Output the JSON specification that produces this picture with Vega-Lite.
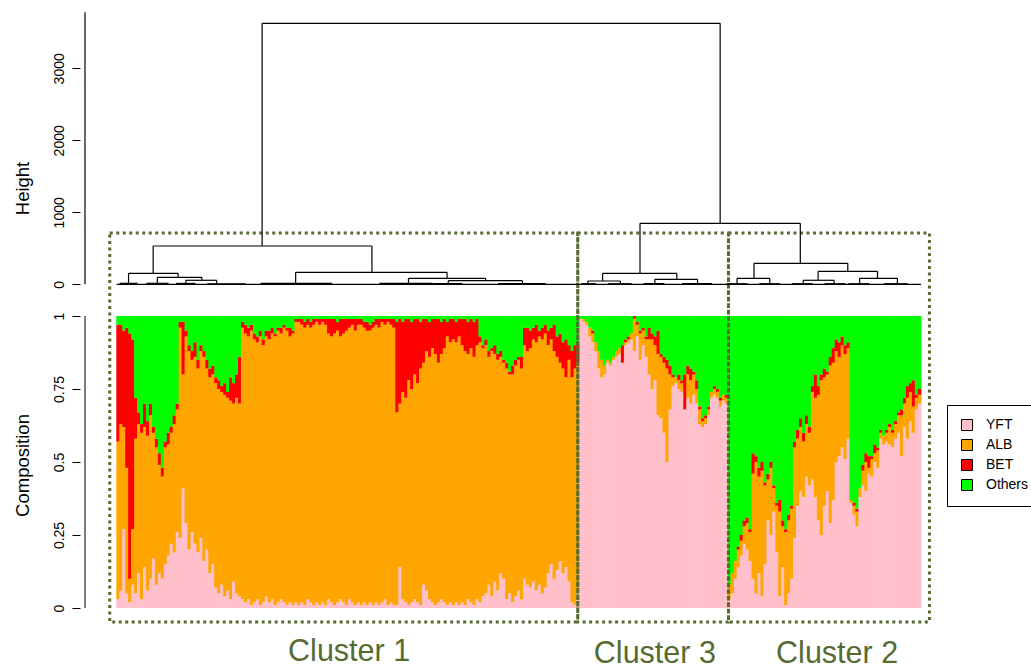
{
"$schema": "https://vega.github.io/schema/vega-lite/v6.json",
"width": 951, "height": 670,
"autosize": {"type": "none"},
"padding": {"left": 80, "top": 0, "right": 0, "bottom": 0},
"background": "white",
"config": {"font": "Liberation Sans", "view": {"stroke": null}},
"resolve": {"scale": {"y": "independent"}, "axis": {"y": "independent"}},
"layer": [
{"layer": [
{"data": {"values": [
{"i":0,"YFT":0.03,"ALB":0.54,"BET":0.40,"Others":0.03},
{"i":1,"YFT":0.06,"ALB":0.57,"BET":0.34,"Others":0.03},
{"i":2,"YFT":0.27,"ALB":0.35,"BET":0.33,"Others":0.05},
{"i":3,"YFT":0.05,"ALB":0.43,"BET":0.48,"Others":0.04},
{"i":4,"YFT":0.02,"ALB":0.08,"BET":0.84,"Others":0.06},
{"i":5,"YFT":0.08,"ALB":0.19,"BET":0.65,"Others":0.08},
{"i":6,"YFT":0.05,"ALB":0.53,"BET":0.14,"Others":0.28},
{"i":7,"YFT":0.12,"ALB":0.51,"BET":0.04,"Others":0.33},
{"i":8,"YFT":0.03,"ALB":0.57,"BET":0.03,"Others":0.37},
{"i":9,"YFT":0.14,"ALB":0.48,"BET":0.08,"Others":0.30},
{"i":10,"YFT":0.06,"ALB":0.53,"BET":0.05,"Others":0.36},
{"i":11,"YFT":0.10,"ALB":0.56,"BET":0.04,"Others":0.30},
{"i":12,"YFT":0.17,"ALB":0.43,"BET":0.02,"Others":0.38},
{"i":13,"YFT":0.08,"ALB":0.47,"BET":0.03,"Others":0.42},
{"i":14,"YFT":0.12,"ALB":0.37,"BET":0.04,"Others":0.47},
{"i":15,"YFT":0.10,"ALB":0.35,"BET":0.03,"Others":0.52},
{"i":16,"YFT":0.15,"ALB":0.40,"BET":0.02,"Others":0.43},
{"i":17,"YFT":0.18,"ALB":0.38,"BET":0.04,"Others":0.40},
{"i":18,"YFT":0.22,"ALB":0.38,"BET":0.02,"Others":0.38},
{"i":19,"YFT":0.19,"ALB":0.44,"BET":0.03,"Others":0.34},
{"i":20,"YFT":0.26,"ALB":0.42,"BET":0.02,"Others":0.30},
{"i":21,"YFT":0.24,"ALB":0.72,"BET":0.02,"Others":0.02},
{"i":22,"YFT":0.41,"ALB":0.39,"BET":0.18,"Others":0.02},
{"i":23,"YFT":0.29,"ALB":0.64,"BET":0.02,"Others":0.05},
{"i":24,"YFT":0.20,"ALB":0.68,"BET":0.02,"Others":0.10},
{"i":25,"YFT":0.26,"ALB":0.59,"BET":0.03,"Others":0.12},
{"i":26,"YFT":0.22,"ALB":0.64,"BET":0.05,"Others":0.09},
{"i":27,"YFT":0.19,"ALB":0.63,"BET":0.03,"Others":0.15},
{"i":28,"YFT":0.24,"ALB":0.64,"BET":0.02,"Others":0.10},
{"i":29,"YFT":0.16,"ALB":0.70,"BET":0.02,"Others":0.12},
{"i":30,"YFT":0.20,"ALB":0.62,"BET":0.03,"Others":0.15},
{"i":31,"YFT":0.12,"ALB":0.67,"BET":0.03,"Others":0.18},
{"i":32,"YFT":0.15,"ALB":0.65,"BET":0.03,"Others":0.17},
{"i":33,"YFT":0.07,"ALB":0.70,"BET":0.02,"Others":0.21},
{"i":34,"YFT":0.05,"ALB":0.70,"BET":0.03,"Others":0.22},
{"i":35,"YFT":0.08,"ALB":0.66,"BET":0.02,"Others":0.24},
{"i":36,"YFT":0.04,"ALB":0.69,"BET":0.04,"Others":0.23},
{"i":37,"YFT":0.06,"ALB":0.66,"BET":0.02,"Others":0.26},
{"i":38,"YFT":0.03,"ALB":0.68,"BET":0.08,"Others":0.21},
{"i":39,"YFT":0.09,"ALB":0.61,"BET":0.07,"Others":0.23},
{"i":40,"YFT":0.05,"ALB":0.67,"BET":0.08,"Others":0.20},
{"i":41,"YFT":0.04,"ALB":0.66,"BET":0.16,"Others":0.14},
{"i":42,"YFT":0.03,"ALB":0.93,"BET":0.02,"Others":0.02},
{"i":43,"YFT":0.02,"ALB":0.92,"BET":0.03,"Others":0.03},
{"i":44,"YFT":0.03,"ALB":0.90,"BET":0.03,"Others":0.04},
{"i":45,"YFT":0.01,"ALB":0.94,"BET":0.02,"Others":0.03},
{"i":46,"YFT":0.02,"ALB":0.90,"BET":0.02,"Others":0.06},
{"i":47,"YFT":0.03,"ALB":0.88,"BET":0.02,"Others":0.07},
{"i":48,"YFT":0.01,"ALB":0.92,"BET":0.02,"Others":0.05},
{"i":49,"YFT":0.02,"ALB":0.88,"BET":0.02,"Others":0.08},
{"i":50,"YFT":0.04,"ALB":0.89,"BET":0.02,"Others":0.05},
{"i":51,"YFT":0.02,"ALB":0.90,"BET":0.03,"Others":0.05},
{"i":52,"YFT":0.03,"ALB":0.91,"BET":0.02,"Others":0.04},
{"i":53,"YFT":0.01,"ALB":0.92,"BET":0.01,"Others":0.06},
{"i":54,"YFT":0.02,"ALB":0.93,"BET":0.01,"Others":0.04},
{"i":55,"YFT":0.03,"ALB":0.91,"BET":0.02,"Others":0.04},
{"i":56,"YFT":0.02,"ALB":0.94,"BET":0.01,"Others":0.03},
{"i":57,"YFT":0.01,"ALB":0.94,"BET":0.01,"Others":0.04},
{"i":58,"YFT":0.02,"ALB":0.91,"BET":0.03,"Others":0.04},
{"i":59,"YFT":0.01,"ALB":0.93,"BET":0.01,"Others":0.05},
{"i":60,"YFT":0.02,"ALB":0.96,"BET":0.01,"Others":0.01},
{"i":61,"YFT":0.01,"ALB":0.97,"BET":0.01,"Others":0.01},
{"i":62,"YFT":0.02,"ALB":0.95,"BET":0.02,"Others":0.01},
{"i":63,"YFT":0.01,"ALB":0.95,"BET":0.02,"Others":0.02},
{"i":64,"YFT":0.03,"ALB":0.94,"BET":0.02,"Others":0.01},
{"i":65,"YFT":0.02,"ALB":0.94,"BET":0.02,"Others":0.02},
{"i":66,"YFT":0.01,"ALB":0.96,"BET":0.02,"Others":0.01},
{"i":67,"YFT":0.02,"ALB":0.96,"BET":0.01,"Others":0.01},
{"i":68,"YFT":0.01,"ALB":0.96,"BET":0.02,"Others":0.01},
{"i":69,"YFT":0.02,"ALB":0.96,"BET":0.01,"Others":0.01},
{"i":70,"YFT":0.01,"ALB":0.96,"BET":0.02,"Others":0.01},
{"i":71,"YFT":0.03,"ALB":0.91,"BET":0.05,"Others":0.01},
{"i":72,"YFT":0.02,"ALB":0.91,"BET":0.06,"Others":0.01},
{"i":73,"YFT":0.01,"ALB":0.93,"BET":0.05,"Others":0.01},
{"i":74,"YFT":0.02,"ALB":0.93,"BET":0.03,"Others":0.02},
{"i":75,"YFT":0.03,"ALB":0.90,"BET":0.06,"Others":0.01},
{"i":76,"YFT":0.02,"ALB":0.92,"BET":0.05,"Others":0.01},
{"i":77,"YFT":0.01,"ALB":0.94,"BET":0.04,"Others":0.01},
{"i":78,"YFT":0.03,"ALB":0.93,"BET":0.03,"Others":0.01},
{"i":79,"YFT":0.02,"ALB":0.95,"BET":0.02,"Others":0.01},
{"i":80,"YFT":0.01,"ALB":0.94,"BET":0.04,"Others":0.01},
{"i":81,"YFT":0.02,"ALB":0.95,"BET":0.02,"Others":0.01},
{"i":82,"YFT":0.01,"ALB":0.96,"BET":0.02,"Others":0.01},
{"i":83,"YFT":0.02,"ALB":0.94,"BET":0.02,"Others":0.02},
{"i":84,"YFT":0.01,"ALB":0.94,"BET":0.03,"Others":0.02},
{"i":85,"YFT":0.02,"ALB":0.93,"BET":0.02,"Others":0.03},
{"i":86,"YFT":0.01,"ALB":0.95,"BET":0.02,"Others":0.02},
{"i":87,"YFT":0.02,"ALB":0.95,"BET":0.02,"Others":0.01},
{"i":88,"YFT":0.01,"ALB":0.95,"BET":0.03,"Others":0.01},
{"i":89,"YFT":0.02,"ALB":0.96,"BET":0.01,"Others":0.01},
{"i":90,"YFT":0.03,"ALB":0.94,"BET":0.02,"Others":0.01},
{"i":91,"YFT":0.01,"ALB":0.97,"BET":0.01,"Others":0.01},
{"i":92,"YFT":0.02,"ALB":0.95,"BET":0.02,"Others":0.01},
{"i":93,"YFT":0.01,"ALB":0.95,"BET":0.03,"Others":0.01},
{"i":94,"YFT":0.01,"ALB":0.66,"BET":0.31,"Others":0.02},
{"i":95,"YFT":0.14,"ALB":0.56,"BET":0.29,"Others":0.01},
{"i":96,"YFT":0.03,"ALB":0.71,"BET":0.24,"Others":0.02},
{"i":97,"YFT":0.02,"ALB":0.70,"BET":0.27,"Others":0.01},
{"i":98,"YFT":0.01,"ALB":0.77,"BET":0.21,"Others":0.01},
{"i":99,"YFT":0.02,"ALB":0.73,"BET":0.23,"Others":0.02},
{"i":100,"YFT":0.03,"ALB":0.77,"BET":0.19,"Others":0.01},
{"i":101,"YFT":0.02,"ALB":0.75,"BET":0.22,"Others":0.01},
{"i":102,"YFT":0.01,"ALB":0.81,"BET":0.16,"Others":0.02},
{"i":103,"YFT":0.08,"ALB":0.76,"BET":0.15,"Others":0.01},
{"i":104,"YFT":0.06,"ALB":0.82,"BET":0.11,"Others":0.01},
{"i":105,"YFT":0.03,"ALB":0.83,"BET":0.12,"Others":0.02},
{"i":106,"YFT":0.02,"ALB":0.87,"BET":0.10,"Others":0.01},
{"i":107,"YFT":0.01,"ALB":0.86,"BET":0.12,"Others":0.01},
{"i":108,"YFT":0.02,"ALB":0.82,"BET":0.15,"Others":0.01},
{"i":109,"YFT":0.03,"ALB":0.84,"BET":0.11,"Others":0.02},
{"i":110,"YFT":0.02,"ALB":0.87,"BET":0.10,"Others":0.01},
{"i":111,"YFT":0.01,"ALB":0.92,"BET":0.05,"Others":0.02},
{"i":112,"YFT":0.02,"ALB":0.89,"BET":0.08,"Others":0.01},
{"i":113,"YFT":0.01,"ALB":0.91,"BET":0.07,"Others":0.01},
{"i":114,"YFT":0.02,"ALB":0.89,"BET":0.07,"Others":0.02},
{"i":115,"YFT":0.01,"ALB":0.92,"BET":0.06,"Others":0.01},
{"i":116,"YFT":0.02,"ALB":0.88,"BET":0.09,"Others":0.01},
{"i":117,"YFT":0.01,"ALB":0.87,"BET":0.11,"Others":0.01},
{"i":118,"YFT":0.03,"ALB":0.84,"BET":0.11,"Others":0.02},
{"i":119,"YFT":0.02,"ALB":0.87,"BET":0.10,"Others":0.01},
{"i":120,"YFT":0.01,"ALB":0.85,"BET":0.12,"Others":0.02},
{"i":121,"YFT":0.03,"ALB":0.87,"BET":0.09,"Others":0.01},
{"i":122,"YFT":0.02,"ALB":0.89,"BET":0.02,"Others":0.07},
{"i":123,"YFT":0.04,"ALB":0.85,"BET":0.01,"Others":0.10},
{"i":124,"YFT":0.05,"ALB":0.85,"BET":0.02,"Others":0.08},
{"i":125,"YFT":0.08,"ALB":0.78,"BET":0.02,"Others":0.12},
{"i":126,"YFT":0.04,"ALB":0.84,"BET":0.01,"Others":0.11},
{"i":127,"YFT":0.09,"ALB":0.78,"BET":0.03,"Others":0.10},
{"i":128,"YFT":0.06,"ALB":0.79,"BET":0.02,"Others":0.13},
{"i":129,"YFT":0.12,"ALB":0.74,"BET":0.02,"Others":0.12},
{"i":130,"YFT":0.10,"ALB":0.74,"BET":0.01,"Others":0.15},
{"i":131,"YFT":0.03,"ALB":0.79,"BET":0.02,"Others":0.16},
{"i":132,"YFT":0.05,"ALB":0.75,"BET":0.01,"Others":0.19},
{"i":133,"YFT":0.02,"ALB":0.78,"BET":0.03,"Others":0.17},
{"i":134,"YFT":0.04,"ALB":0.79,"BET":0.02,"Others":0.15},
{"i":135,"YFT":0.06,"ALB":0.79,"BET":0.01,"Others":0.14},
{"i":136,"YFT":0.03,"ALB":0.79,"BET":0.04,"Others":0.14},
{"i":137,"YFT":0.10,"ALB":0.80,"BET":0.06,"Others":0.04},
{"i":138,"YFT":0.08,"ALB":0.80,"BET":0.08,"Others":0.04},
{"i":139,"YFT":0.07,"ALB":0.82,"BET":0.06,"Others":0.05},
{"i":140,"YFT":0.09,"ALB":0.83,"BET":0.04,"Others":0.04},
{"i":141,"YFT":0.06,"ALB":0.85,"BET":0.06,"Others":0.03},
{"i":142,"YFT":0.08,"ALB":0.85,"BET":0.02,"Others":0.05},
{"i":143,"YFT":0.05,"ALB":0.87,"BET":0.04,"Others":0.04},
{"i":144,"YFT":0.07,"ALB":0.87,"BET":0.03,"Others":0.03},
{"i":145,"YFT":0.12,"ALB":0.78,"BET":0.05,"Others":0.05},
{"i":146,"YFT":0.15,"ALB":0.77,"BET":0.04,"Others":0.04},
{"i":147,"YFT":0.10,"ALB":0.78,"BET":0.09,"Others":0.03},
{"i":148,"YFT":0.13,"ALB":0.73,"BET":0.07,"Others":0.07},
{"i":149,"YFT":0.16,"ALB":0.68,"BET":0.10,"Others":0.06},
{"i":150,"YFT":0.12,"ALB":0.70,"BET":0.09,"Others":0.09},
{"i":151,"YFT":0.14,"ALB":0.65,"BET":0.13,"Others":0.08},
{"i":152,"YFT":0.09,"ALB":0.76,"BET":0.05,"Others":0.10},
{"i":153,"YFT":0.02,"ALB":0.77,"BET":0.09,"Others":0.12},
{"i":154,"YFT":0.01,"ALB":0.81,"BET":0.08,"Others":0.10},
{"i":155,"YFT":0.06,"ALB":0.78,"BET":0.07,"Others":0.09},
{"i":156,"YFT":0.99,"ALB":0.00,"BET":0.00,"Others":0.01},
{"i":157,"YFT":0.98,"ALB":0.01,"BET":0.00,"Others":0.01},
{"i":158,"YFT":0.97,"ALB":0.01,"BET":0.00,"Others":0.02},
{"i":159,"YFT":0.93,"ALB":0.03,"BET":0.00,"Others":0.04},
{"i":160,"YFT":0.91,"ALB":0.03,"BET":0.01,"Others":0.05},
{"i":161,"YFT":0.88,"ALB":0.03,"BET":0.00,"Others":0.09},
{"i":162,"YFT":0.82,"ALB":0.06,"BET":0.00,"Others":0.12},
{"i":163,"YFT":0.79,"ALB":0.06,"BET":0.00,"Others":0.15},
{"i":164,"YFT":0.80,"ALB":0.03,"BET":0.00,"Others":0.17},
{"i":165,"YFT":0.84,"ALB":0.01,"BET":0.00,"Others":0.15},
{"i":166,"YFT":0.83,"ALB":0.01,"BET":0.00,"Others":0.16},
{"i":167,"YFT":0.85,"ALB":0.01,"BET":0.00,"Others":0.14},
{"i":168,"YFT":0.86,"ALB":0.02,"BET":0.00,"Others":0.12},
{"i":169,"YFT":0.87,"ALB":0.02,"BET":0.00,"Others":0.11},
{"i":170,"YFT":0.84,"ALB":0.00,"BET":0.06,"Others":0.10},
{"i":171,"YFT":0.90,"ALB":0.01,"BET":0.01,"Others":0.08},
{"i":172,"YFT":0.91,"ALB":0.01,"BET":0.01,"Others":0.07},
{"i":173,"YFT":0.92,"ALB":0.02,"BET":0.00,"Others":0.06},
{"i":174,"YFT":0.88,"ALB":0.11,"BET":0.01,"Others":0.00},
{"i":175,"YFT":0.93,"ALB":0.04,"BET":0.01,"Others":0.02},
{"i":176,"YFT":0.85,"ALB":0.09,"BET":0.01,"Others":0.05},
{"i":177,"YFT":0.90,"ALB":0.05,"BET":0.01,"Others":0.04},
{"i":178,"YFT":0.86,"ALB":0.06,"BET":0.01,"Others":0.07},
{"i":179,"YFT":0.80,"ALB":0.12,"BET":0.04,"Others":0.04},
{"i":180,"YFT":0.75,"ALB":0.17,"BET":0.02,"Others":0.06},
{"i":181,"YFT":0.78,"ALB":0.12,"BET":0.03,"Others":0.07},
{"i":182,"YFT":0.66,"ALB":0.21,"BET":0.08,"Others":0.05},
{"i":183,"YFT":0.65,"ALB":0.21,"BET":0.01,"Others":0.13},
{"i":184,"YFT":0.60,"ALB":0.24,"BET":0.02,"Others":0.14},
{"i":185,"YFT":0.50,"ALB":0.32,"BET":0.03,"Others":0.15},
{"i":186,"YFT":0.68,"ALB":0.12,"BET":0.03,"Others":0.17},
{"i":187,"YFT":0.76,"ALB":0.03,"BET":0.01,"Others":0.20},
{"i":188,"YFT":0.77,"ALB":0.02,"BET":0.00,"Others":0.21},
{"i":189,"YFT":0.75,"ALB":0.03,"BET":0.02,"Others":0.20},
{"i":190,"YFT":0.74,"ALB":0.03,"BET":0.01,"Others":0.22},
{"i":191,"YFT":0.68,"ALB":0.00,"BET":0.12,"Others":0.20},
{"i":192,"YFT":0.72,"ALB":0.08,"BET":0.03,"Others":0.17},
{"i":193,"YFT":0.70,"ALB":0.08,"BET":0.04,"Others":0.18},
{"i":194,"YFT":0.73,"ALB":0.07,"BET":0.01,"Others":0.19},
{"i":195,"YFT":0.70,"ALB":0.05,"BET":0.03,"Others":0.22},
{"i":196,"YFT":0.63,"ALB":0.05,"BET":0.01,"Others":0.31},
{"i":197,"YFT":0.62,"ALB":0.02,"BET":0.01,"Others":0.35},
{"i":198,"YFT":0.63,"ALB":0.02,"BET":0.01,"Others":0.34},
{"i":199,"YFT":0.66,"ALB":0.02,"BET":0.01,"Others":0.31},
{"i":200,"YFT":0.72,"ALB":0.02,"BET":0.00,"Others":0.26},
{"i":201,"YFT":0.73,"ALB":0.02,"BET":0.01,"Others":0.24},
{"i":202,"YFT":0.72,"ALB":0.02,"BET":0.01,"Others":0.25},
{"i":203,"YFT":0.69,"ALB":0.02,"BET":0.01,"Others":0.28},
{"i":204,"YFT":0.71,"ALB":0.02,"BET":0.00,"Others":0.27},
{"i":205,"YFT":0.70,"ALB":0.02,"BET":0.01,"Others":0.27},
{"i":206,"YFT":0.03,"ALB":0.05,"BET":0.00,"Others":0.92},
{"i":207,"YFT":0.05,"ALB":0.07,"BET":0.00,"Others":0.88},
{"i":208,"YFT":0.10,"ALB":0.06,"BET":0.00,"Others":0.84},
{"i":209,"YFT":0.14,"ALB":0.06,"BET":0.01,"Others":0.79},
{"i":210,"YFT":0.18,"ALB":0.05,"BET":0.02,"Others":0.75},
{"i":211,"YFT":0.22,"ALB":0.06,"BET":0.02,"Others":0.70},
{"i":212,"YFT":0.20,"ALB":0.09,"BET":0.02,"Others":0.69},
{"i":213,"YFT":0.16,"ALB":0.10,"BET":0.01,"Others":0.73},
{"i":214,"YFT":0.10,"ALB":0.36,"BET":0.07,"Others":0.47},
{"i":215,"YFT":0.05,"ALB":0.45,"BET":0.02,"Others":0.48},
{"i":216,"YFT":0.12,"ALB":0.33,"BET":0.03,"Others":0.52},
{"i":217,"YFT":0.04,"ALB":0.43,"BET":0.03,"Others":0.50},
{"i":218,"YFT":0.15,"ALB":0.27,"BET":0.01,"Others":0.57},
{"i":219,"YFT":0.30,"ALB":0.14,"BET":0.02,"Others":0.54},
{"i":220,"YFT":0.25,"ALB":0.23,"BET":0.02,"Others":0.50},
{"i":221,"YFT":0.33,"ALB":0.08,"BET":0.01,"Others":0.58},
{"i":222,"YFT":0.19,"ALB":0.16,"BET":0.01,"Others":0.64},
{"i":223,"YFT":0.04,"ALB":0.29,"BET":0.04,"Others":0.63},
{"i":224,"YFT":0.14,"ALB":0.14,"BET":0.02,"Others":0.70},
{"i":225,"YFT":0.01,"ALB":0.25,"BET":0.01,"Others":0.73},
{"i":226,"YFT":0.05,"ALB":0.25,"BET":0.02,"Others":0.68},
{"i":227,"YFT":0.10,"ALB":0.24,"BET":0.01,"Others":0.65},
{"i":228,"YFT":0.24,"ALB":0.31,"BET":0.02,"Others":0.43},
{"i":229,"YFT":0.35,"ALB":0.23,"BET":0.03,"Others":0.39},
{"i":230,"YFT":0.40,"ALB":0.22,"BET":0.03,"Others":0.35},
{"i":231,"YFT":0.38,"ALB":0.19,"BET":0.03,"Others":0.40},
{"i":232,"YFT":0.45,"ALB":0.18,"BET":0.03,"Others":0.34},
{"i":233,"YFT":0.42,"ALB":0.18,"BET":0.02,"Others":0.38},
{"i":234,"YFT":0.44,"ALB":0.30,"BET":0.02,"Others":0.24},
{"i":235,"YFT":0.38,"ALB":0.34,"BET":0.08,"Others":0.20},
{"i":236,"YFT":0.30,"ALB":0.43,"BET":0.03,"Others":0.24},
{"i":237,"YFT":0.25,"ALB":0.53,"BET":0.02,"Others":0.20},
{"i":238,"YFT":0.35,"ALB":0.44,"BET":0.03,"Others":0.18},
{"i":239,"YFT":0.40,"ALB":0.40,"BET":0.01,"Others":0.19},
{"i":240,"YFT":0.29,"ALB":0.54,"BET":0.03,"Others":0.14},
{"i":241,"YFT":0.37,"ALB":0.47,"BET":0.05,"Others":0.11},
{"i":242,"YFT":0.50,"ALB":0.38,"BET":0.04,"Others":0.08},
{"i":243,"YFT":0.52,"ALB":0.34,"BET":0.05,"Others":0.09},
{"i":244,"YFT":0.55,"ALB":0.35,"BET":0.03,"Others":0.07},
{"i":245,"YFT":0.51,"ALB":0.36,"BET":0.03,"Others":0.10},
{"i":246,"YFT":0.58,"ALB":0.31,"BET":0.02,"Others":0.09},
{"i":247,"YFT":0.36,"ALB":0.01,"BET":0.00,"Others":0.63},
{"i":248,"YFT":0.32,"ALB":0.03,"BET":0.01,"Others":0.64},
{"i":249,"YFT":0.28,"ALB":0.05,"BET":0.01,"Others":0.66},
{"i":250,"YFT":0.38,"ALB":0.03,"BET":0.00,"Others":0.59},
{"i":251,"YFT":0.42,"ALB":0.05,"BET":0.02,"Others":0.51},
{"i":252,"YFT":0.40,"ALB":0.10,"BET":0.03,"Others":0.47},
{"i":253,"YFT":0.46,"ALB":0.02,"BET":0.04,"Others":0.48},
{"i":254,"YFT":0.45,"ALB":0.06,"BET":0.01,"Others":0.48},
{"i":255,"YFT":0.50,"ALB":0.03,"BET":0.03,"Others":0.44},
{"i":256,"YFT":0.48,"ALB":0.06,"BET":0.01,"Others":0.45},
{"i":257,"YFT":0.58,"ALB":0.02,"BET":0.01,"Others":0.39},
{"i":258,"YFT":0.56,"ALB":0.03,"BET":0.00,"Others":0.41},
{"i":259,"YFT":0.57,"ALB":0.03,"BET":0.01,"Others":0.39},
{"i":260,"YFT":0.56,"ALB":0.06,"BET":0.01,"Others":0.37},
{"i":261,"YFT":0.55,"ALB":0.05,"BET":0.01,"Others":0.39},
{"i":262,"YFT":0.58,"ALB":0.05,"BET":0.01,"Others":0.36},
{"i":263,"YFT":0.60,"ALB":0.06,"BET":0.01,"Others":0.33},
{"i":264,"YFT":0.52,"ALB":0.14,"BET":0.02,"Others":0.32},
{"i":265,"YFT":0.62,"ALB":0.08,"BET":0.02,"Others":0.28},
{"i":266,"YFT":0.58,"ALB":0.14,"BET":0.04,"Others":0.24},
{"i":267,"YFT":0.64,"ALB":0.10,"BET":0.03,"Others":0.23},
{"i":268,"YFT":0.60,"ALB":0.09,"BET":0.09,"Others":0.22},
{"i":269,"YFT":0.68,"ALB":0.04,"BET":0.01,"Others":0.27},
{"i":270,"YFT":0.70,"ALB":0.03,"BET":0.02,"Others":0.25}
]},
"transform": [
{"fold": ["YFT","ALB","BET","Others"], "as": ["species","share"]},
{"lookup": "species", "from": {"data": {"values": [{"species":"YFT","rank":1},{"species":"ALB","rank":2},{"species":"BET","rank":3},{"species":"Others","rank":4}]}, "key": "species", "fields": ["rank"]}}
],
"mark": {"type": "bar", "width": 3.7},
"encoding": {
"x": {"field": "i", "type": "quantitative", "scale": {"domain": [-11.1667, 305.8333], "nice": false, "zero": false}, "axis": null},
"y": {"field": "share", "type": "quantitative", "stack": "zero", "title": "Composition",
 "scale": {"domain": [-0.21233, 2.08219], "nice": false, "zero": false},
 "axis": {"orient": "left", "values": [0,0.25,0.5,0.75,1], "labelExpr": "'' + datum.value", "domain": false, "grid": false,
  "tickSize": 8, "tickColor": "black", "tickWidth": 1, "labelAngle": 270, "labelAlign": "center", "labelBaseline": "alphabetic",
  "labelPadding": 9, "labelFontSize": 14, "labelColor": "black", "labelOverlap": false, "labelFont": "Liberation Sans",
  "titleFontSize": 18.5, "titleFontWeight": "normal", "titleFont": "Liberation Sans", "titleColor": "black", "titleAngle": 270,
  "titleAlign": "center", "titleBaseline": "alphabetic", "titleX": -52, "titleY": 465}},
"color": {"field": "species", "type": "nominal",
 "scale": {"domain": ["YFT","ALB","BET","Others"], "range": ["#FFC0CB","#FFA500","#FF0000","#00FF00"]},
 "legend": {"orient": "none", "legendX": 867, "legendY": 405, "title": null, "strokeColor": "black", "fillColor": "white",
  "padding": 13, "symbolType": "square", "symbolSize": 121, "symbolStrokeColor": "black", "symbolStrokeWidth": 1,
  "labelFontSize": 14, "labelFont": "Liberation Sans", "labelColor": "black", "labelOffset": 12, "rowPadding": 4}},
"order": {"field": "rank", "type": "quantitative"}
}},
{"data": {"values": [
{"x1": -2.83, "x2": 154.83, "y1": -0.048, "y2": 1.284},
{"x1": 154.83, "x2": 205.6, "y1": -0.048, "y2": 1.284},
{"x1": 205.6, "x2": 273.3, "y1": -0.048, "y2": 1.284}
]},
"mark": {"type": "rect", "filled": false, "stroke": "#556B2F", "strokeWidth": 3, "strokeDash": [3, 3.5]},
"encoding": {
"x": {"field": "x1", "type": "quantitative", "axis": null, "scale": {"domain": [-11.1667, 305.8333], "nice": false, "zero": false}},
"x2": {"field": "x2"},
"y": {"field": "y1", "type": "quantitative", "title": "Composition", "scale": {"domain": [-0.21233, 2.08219], "nice": false, "zero": false}},
"y2": {"field": "y2"}
}},
{"data": {"values": [
{"label": "Cluster 1", "cx": 77.8, "cy": -0.182},
{"label": "Cluster 3", "cx": 180.8, "cy": -0.188},
{"label": "Cluster 2", "cx": 242.2, "cy": -0.188}
]},
"mark": {"type": "text", "fontSize": 30.5, "font": "Liberation Sans", "color": "#556B2F", "align": "center", "baseline": "alphabetic"},
"encoding": {
"x": {"field": "cx", "type": "quantitative", "axis": null, "scale": {"domain": [-11.1667, 305.8333], "nice": false, "zero": false}},
"y": {"field": "cy", "type": "quantitative", "title": "Composition", "scale": {"domain": [-0.21233, 2.08219], "nice": false, "zero": false}},
"text": {"field": "label"}
}},
{"data": {"values": [{"ax": -11.1667, "a0": 0, "a1": 1}]},
"mark": {"type": "rule", "color": "black", "strokeWidth": 1},
"encoding": {
"x": {"field": "ax", "type": "quantitative", "axis": null, "scale": {"domain": [-11.1667, 305.8333], "nice": false, "zero": false}},
"y": {"field": "a0", "type": "quantitative", "title": "Composition", "scale": {"domain": [-0.21233, 2.08219], "nice": false, "zero": false}},
"y2": {"field": "a1"}
}}
]},
{"layer": [
{"data": {"values": [
{"x1": 48.5, "x2": 202.8, "h1": 3625, "h2": 3625},
{"x1": 48.5, "x2": 48.5, "h1": 532, "h2": 3625},
{"x1": 202.8, "x2": 202.8, "h1": 847, "h2": 3625},
{"x1": 11.8, "x2": 85.5, "h1": 532, "h2": 532},
{"x1": 11.8, "x2": 11.8, "h1": 153, "h2": 532},
{"x1": 85.5, "x2": 85.5, "h1": 167, "h2": 532},
{"x1": 3.5, "x2": 20.2, "h1": 153, "h2": 153},
{"x1": 3.5, "x2": 3.5, "h1": 14, "h2": 153},
{"x1": 20.2, "x2": 20.2, "h1": 97, "h2": 153},
{"x1": 0.5, "x2": 6.5, "h1": 14, "h2": 14},
{"x1": 13.2, "x2": 28.2, "h1": 97, "h2": 97},
{"x1": 13.2, "x2": 13.2, "h1": 14, "h2": 97},
{"x1": 28.2, "x2": 28.2, "h1": 56, "h2": 97},
{"x1": 9.5, "x2": 17, "h1": 14, "h2": 14},
{"x1": 22.8, "x2": 33.2, "h1": 56, "h2": 56},
{"x1": 22.8, "x2": 22.8, "h1": 12, "h2": 56},
{"x1": 33.2, "x2": 33.2, "h1": 8, "h2": 56},
{"x1": 19.5, "x2": 26, "h1": 12, "h2": 12},
{"x1": 30, "x2": 43, "h1": 8, "h2": 8},
{"x1": 59.8, "x2": 110.8, "h1": 167, "h2": 167},
{"x1": 59.8, "x2": 59.8, "h1": 14, "h2": 167},
{"x1": 110.8, "x2": 110.8, "h1": 83, "h2": 167},
{"x1": 48, "x2": 72, "h1": 14, "h2": 14},
{"x1": 97.8, "x2": 123.8, "h1": 83, "h2": 83},
{"x1": 97.8, "x2": 97.8, "h1": 14, "h2": 83},
{"x1": 123.8, "x2": 123.8, "h1": 50, "h2": 83},
{"x1": 88, "x2": 106, "h1": 14, "h2": 14},
{"x1": 111.2, "x2": 136.2, "h1": 50, "h2": 50},
{"x1": 111.2, "x2": 111.2, "h1": 10, "h2": 50},
{"x1": 136.2, "x2": 136.2, "h1": 10, "h2": 50},
{"x1": 106, "x2": 116, "h1": 10, "h2": 10},
{"x1": 128, "x2": 144, "h1": 10, "h2": 10},
{"x1": 175.8, "x2": 229.8, "h1": 847, "h2": 847},
{"x1": 175.8, "x2": 175.8, "h1": 153, "h2": 847},
{"x1": 229.8, "x2": 229.8, "h1": 292, "h2": 847},
{"x1": 163.2, "x2": 188.2, "h1": 153, "h2": 153},
{"x1": 163.2, "x2": 163.2, "h1": 46, "h2": 153},
{"x1": 188.2, "x2": 188.2, "h1": 69, "h2": 153},
{"x1": 158.2, "x2": 169.2, "h1": 46, "h2": 46},
{"x1": 158.2, "x2": 158.2, "h1": 8, "h2": 46},
{"x1": 169.2, "x2": 169.2, "h1": 8, "h2": 46},
{"x1": 180.8, "x2": 195.2, "h1": 69, "h2": 69},
{"x1": 180.8, "x2": 180.8, "h1": 10, "h2": 69},
{"x1": 195.2, "x2": 195.2, "h1": 10, "h2": 69},
{"x1": 156, "x2": 161, "h1": 8, "h2": 8},
{"x1": 165, "x2": 173, "h1": 8, "h2": 8},
{"x1": 177, "x2": 184, "h1": 10, "h2": 10},
{"x1": 190, "x2": 200, "h1": 10, "h2": 10},
{"x1": 214.2, "x2": 245.8, "h1": 292, "h2": 292},
{"x1": 214.2, "x2": 214.2, "h1": 83, "h2": 292},
{"x1": 245.8, "x2": 245.8, "h1": 181, "h2": 292},
{"x1": 208.5, "x2": 219.5, "h1": 83, "h2": 83},
{"x1": 208.5, "x2": 208.5, "h1": 8, "h2": 83},
{"x1": 219.5, "x2": 219.5, "h1": 8, "h2": 83},
{"x1": 235.8, "x2": 255.8, "h1": 181, "h2": 181},
{"x1": 235.8, "x2": 235.8, "h1": 56, "h2": 181},
{"x1": 255.8, "x2": 255.8, "h1": 83, "h2": 181},
{"x1": 230.8, "x2": 241.2, "h1": 56, "h2": 56},
{"x1": 230.8, "x2": 230.8, "h1": 8, "h2": 56},
{"x1": 241.2, "x2": 241.2, "h1": 8, "h2": 56},
{"x1": 249.8, "x2": 262.5, "h1": 83, "h2": 83},
{"x1": 249.8, "x2": 249.8, "h1": 8, "h2": 83},
{"x1": 262.5, "x2": 262.5, "h1": 8, "h2": 83},
{"x1": 205, "x2": 212, "h1": 8, "h2": 8},
{"x1": 216, "x2": 223, "h1": 8, "h2": 8},
{"x1": 227, "x2": 234, "h1": 8, "h2": 8},
{"x1": 238, "x2": 245, "h1": 8, "h2": 8},
{"x1": 246, "x2": 253, "h1": 8, "h2": 8},
{"x1": 258, "x2": 266, "h1": 8, "h2": 8},
{"x1": -0.5, "x2": 270.5, "h1": 0, "h2": 0},
{"x1": -11.1667, "x2": -11.1667, "h1": 0, "h2": 3778}
]},
"mark": {"type": "rule", "color": "black", "strokeWidth": 1.2},
"encoding": {
"x": {"field": "x1", "type": "quantitative", "axis": null, "scale": {"domain": [-11.1667, 305.8333], "nice": false, "zero": false}},
"x2": {"field": "x2"},
"y": {"field": "h1", "type": "quantitative", "title": "Height",
 "scale": {"domain": [-5357, 3949], "nice": false, "zero": false},
 "axis": {"orient": "left", "values": [0,1000,2000,3000], "format": "d", "domain": false, "grid": false,
  "tickSize": 8, "tickColor": "black", "tickWidth": 1, "labelAngle": 270, "labelAlign": "center", "labelBaseline": "alphabetic",
  "labelPadding": 9, "labelFontSize": 14, "labelColor": "black", "labelOverlap": false, "labelFont": "Liberation Sans",
  "titleFontSize": 18.5, "titleFontWeight": "normal", "titleFont": "Liberation Sans", "titleColor": "black", "titleAngle": 270,
  "titleAlign": "center", "titleBaseline": "alphabetic", "titleX": -52, "titleY": 188}},
"y2": {"field": "h2"}
}}
]}
]
}
